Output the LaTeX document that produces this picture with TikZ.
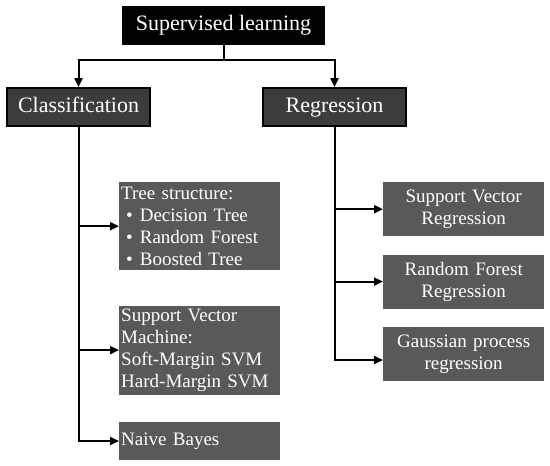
\documentclass[tikz,border=0pt]{standalone}
\usepackage{fontspec}
\setmainfont{Liberation Serif}
\usetikzlibrary{positioning, arrows.meta}
\definecolor{headgray}{RGB}{62,60,58}
\definecolor{leafgray}{RGB}{89,89,89}
\newcommand{\treeitem}{\hspace*{5pt}\textbullet\hspace{7pt}}

\begin{document}
\begin{tikzpicture}[
    x=1pt, y=1pt,
    node distance=18pt,
    head/.style={rectangle, draw=black, line width=1.8pt, fill=headgray, text=white, font=\fontsize{22}{26}\selectfont, text height=15pt, text depth=5pt, minimum width=143pt, minimum height=38pt},
    root/.style={head, fill=black, minimum width=201pt, minimum height=37pt},
    leaf/.style={rectangle, fill=leafgray, text=white, font=\fontsize{19}{22}\selectfont, inner xsep=2pt, inner ysep=0pt, text width=157pt},
    leftleaf/.style={leaf, align=left},
    rightleaf/.style={leaf, align=center, minimum height=54pt},
    arrow/.style={line width=2pt, -{Triangle[length=9pt,width=8pt]}}
]
    \useasboundingbox (0,0) rectangle (550,-466);

    \node (sup) [root] at (223.5,-25.5) {Supervised learning};
    \node (cls) [head] at (78.5,-107) {Classification};
    \node (reg) [head] at (334.5,-107) {Regression};

    \node (tree) [leftleaf, minimum height=88pt, anchor=north west] at (119,-182) {Tree structure:\\\treeitem Decision Tree\\\treeitem Random Forest\\\treeitem Boosted Tree};
    \node (svm) [leftleaf, minimum height=89pt, below=35pt of tree] {Support Vector\\Machine:\\Soft-Margin SVM\\Hard-Margin SVM};
    \node (nb) [leftleaf, minimum height=38pt, below=27pt of svm] {Naive Bayes};

    \node (svr) [rightleaf, anchor=north west] at (383,-182) {Support Vector\\Regression};
    \node (rfr) [rightleaf, below=of svr] {Random Forest\\Regression};
    \node (gpr) [rightleaf, below=of rfr] {Gaussian process\\regression};

    \draw [arrow] (sup.south) -- ++(0,-15) -| (cls.north);
    \draw [arrow] (sup.south) -- ++(0,-15) -| (reg.north);
    \draw [arrow] (cls.south) |- (nb.west);
    \draw [arrow] (cls.south |- tree.west) -- (tree.west);
    \draw [arrow] (cls.south |- svm.west) -- (svm.west);
    \draw [arrow] (reg.south) |- ([yshift=-6pt]gpr.west);
    \draw [arrow] (reg.south |- svr.west) -- (svr.west);
    \draw [arrow] (reg.south |- rfr.west) -- (rfr.west);
\end{tikzpicture}
\end{document}
